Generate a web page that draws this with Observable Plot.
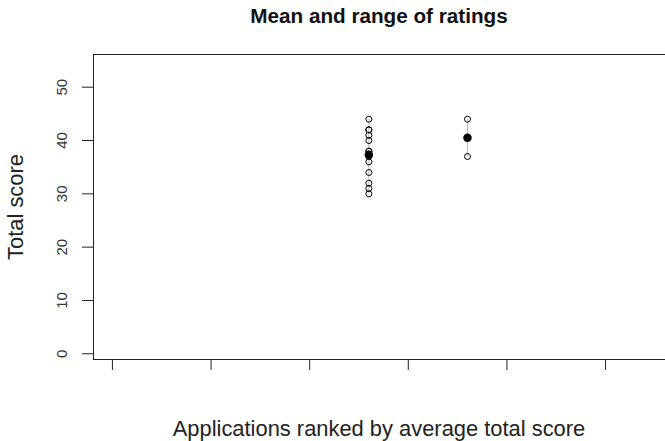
<!DOCTYPE html>
<html><head><meta charset="utf-8">
<script src="https://cdn.jsdelivr.net/npm/d3@7"></script>
<script src="https://cdn.jsdelivr.net/npm/@observablehq/plot@0.6"></script>
<style>
html,body{margin:0;padding:0;background:#fff;overflow:hidden}
body{width:665px;height:441px;font-family:"Liberation Sans",Arial,sans-serif;position:relative}
#title{position:absolute;left:93px;width:572px;top:5.5px;text-align:center;font-weight:bold;font-size:20.7px;line-height:20.7px;color:#111;white-space:nowrap}
#chart{position:absolute;left:0;top:40px}
#xlabel{position:absolute;left:93px;width:572px;top:418px;text-align:center;font-size:21.9px;line-height:21.9px;color:#222;white-space:nowrap}
#chart svg{overflow:hidden;display:block}
</style>
</head><body>
<div id="title">Mean and range of ratings</div>
<div id="chart"></div>
<div id="xlabel">Applications ranked by average total score</div>
<script>
// Application rank positions (x) and their individual ratings
const appRanks = [13, 18];
const ratingsApp1 = [44, 42, 42, 41, 40, 38, 38, 37, 36, 34, 32, 31, 30];
const ratingsApp2 = [44, 37];
const xTicks = [0, 5, 10, 15, 20, 25];
const yTicks = [0, 10, 20, 30, 40, 50];
const yLabel = "Total score";

const ratingSets = [ratingsApp1, ratingsApp2];
const points = [];
const summary = [];
appRanks.forEach((r, i) => {
  ratingSets[i].forEach(v => points.push({rank: r, score: v}));
  summary.push({rank: r, min: d3.min(ratingSets[i]), max: d3.max(ratingSets[i]), mean: d3.mean(ratingSets[i])});
});

const plot = Plot.plot({
  width: 665,
  height: 340,
  marginLeft: 93,
  marginRight: -2,
  marginTop: 14,
  marginBottom: 21,
  style: {fontFamily: '"Liberation Sans", Arial, sans-serif', color: "#222", background: "#fff"},
  x: {domain: [-0.96, 28.14]},
  y: {domain: [-1.07, 56.13]},
  marks: [
    Plot.frame({stroke: "#222", strokeWidth: 1}),
    Plot.axisX({ticks: xTicks, tickSize: 11, tickFormat: () => "", label: null, stroke: "#222"}),
    Plot.axisY({ticks: yTicks, tickSize: 11, tickRotate: -90, tickPadding: 16, fontSize: 15, label: null, stroke: "#222", fill: "#333"}),
    Plot.axisY({ticks: [], tickSize: 0, label: yLabel, labelArrow: "none", labelAnchor: "center", labelOffset: 86, fontSize: 21.9, fill: "#222"}),
    Plot.ruleX(summary, {x: "rank", y1: "min", y2: "max", stroke: "#b8b8b8", strokeWidth: 1}),
    Plot.dot(points, {x: "rank", y: "score", r: 3, stroke: "#000", strokeWidth: 1, fill: "none"}),
    Plot.dot(summary, {x: "rank", y: "mean", r: 3.5, fill: "#000", stroke: "#000"})
  ]
});
document.getElementById("chart").appendChild(plot);
</script>
</body></html>
